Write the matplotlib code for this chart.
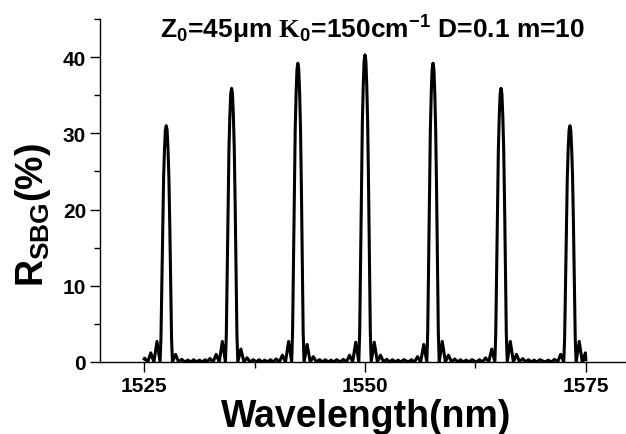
import matplotlib
matplotlib.use('Agg')
import matplotlib.pyplot as plt
from matplotlib.ticker import MultipleLocator

# channel peaks (nm, %)
centers = [1527.5, 1534.9, 1542.4, 1550.0, 1557.7, 1565.4, 1573.2]
heights = [31.0, 35.9, 39.2, 40.3, 39.2, 35.9, 31.0]

# main lobe shape: offset from centre (nm) -> fraction of peak height
core_offsets = [-0.7, -0.6, -0.5, -0.4, -0.3, -0.2, -0.1, 0.0,
                0.1, 0.2, 0.3, 0.4, 0.5, 0.6, 0.7]
core_frac = [0.0, 0.1, 0.33, 0.58, 0.78, 0.9, 0.98, 1.0,
             0.98, 0.9, 0.78, 0.58, 0.33, 0.1, 0.0]

# side lobes (nearest first), offsets in nm from the peak centre
lobe_offsets = [1.05, 1.75, 2.45]
null_offsets = [1.4, 2.1, 2.8]
left_lobes = [[2.7, 1.2, 0.5], [2.7, 1.0, 0.45], [2.7, 0.9, 0.4],
              [2.6, 0.9, 0.35], [2.3, 0.7, 0.3], [1.7, 0.55, 0.3],
              [1.0, 0.35, 0.25]]
right_lobes = [[1.0, 0.35, 0.25], [1.7, 0.55, 0.3], [2.3, 0.7, 0.3],
               [2.6, 0.9, 0.35], [2.7, 0.9, 0.4], [2.7, 1.0, 0.45],
               [2.7, 1.2, 0.5]]

# small ripples on the floor between channels (offset from left peak)
floor_offsets = [3.1, 3.45, 3.75, 4.05, 4.4]
floor_values = [0.3, 0.0, 0.25, 0.0, 0.3]

wl_start, wl_end = 1525.0, 1575.0
end_values = [0.4, 0.3]

pts = []
for i, c in enumerate(centers):
    h = heights[i]
    for o, f in zip(core_offsets, core_frac):
        pts.append((c + o, h * f))
    for o, v in zip(lobe_offsets, left_lobes[i]):
        pts.append((c - o, v))
    for o, v in zip(lobe_offsets, right_lobes[i]):
        pts.append((c + o, v))
    for o in null_offsets:
        pts.append((c - o, 0.0))
        pts.append((c + o, 0.0))
    if i < len(centers) - 1:
        for o, v in zip(floor_offsets, floor_values):
            pts.append((c + o, v))

pts = [p for p in pts if wl_start < p[0] < wl_end]
pts.append((wl_start, end_values[0]))
pts.append((wl_end, end_values[1]))
pts.sort()
wl = [p[0] for p in pts]
refl = [p[1] for p in pts]

plt.rcParams['font.family'] = ['Liberation Sans', 'DejaVu Sans']
plt.rcParams['font.weight'] = 'bold'
plt.rcParams['mathtext.fontset'] = 'custom'
plt.rcParams['mathtext.rm'] = 'Liberation Sans:bold'
plt.rcParams['mathtext.it'] = 'Liberation Sans:bold'
plt.rcParams['mathtext.bf'] = 'Liberation Sans:bold'
plt.rcParams['mathtext.tt'] = 'Liberation Serif'
plt.rcParams['mathtext.default'] = 'rm'

fig = plt.figure(figsize=(6.26, 4.35), dpi=100)
ax = fig.add_axes([100 / 626, 72 / 435, 530 / 626, 343 / 435])

ax.plot(wl, refl, color='black', lw=2.2, solid_joinstyle='round')

ax.set_xlim(1520, 1580)
ax.set_ylim(0, 45)
ax.xaxis.set_major_locator(MultipleLocator(25))
ax.xaxis.set_minor_locator(MultipleLocator(12.5))
ax.yaxis.set_major_locator(MultipleLocator(10))
ax.yaxis.set_minor_locator(MultipleLocator(5))

for s in ['top', 'right']:
    ax.spines[s].set_visible(False)
for s in ['left', 'bottom']:
    ax.spines[s].set_linewidth(1.0)

ax.tick_params(which='major', direction='out', length=7, width=1.0,
               labelsize=15, pad=3)
ax.tick_params(which='minor', direction='out', length=4, width=1.0)

ax.set_xlabel('Wavelength(nm)', fontsize=27, fontweight='bold')
ax.xaxis.set_label_coords(0.502, -0.105)
ax.set_ylabel(r'R$_{\mathrm{SBG}}$(%)', fontsize=27, fontweight='bold')
ax.yaxis.set_label_coords(-0.088, 0.43)

fig.text(160 / 626, (435 - 39) / 435,
         r'Z$_0$=45μm $\mathtt{K}_0$=150cm$^{-1}$ D=0.1 m=10',
         fontsize=19, fontweight='bold', ha='left', va='baseline')

fig.savefig('out.png', dpi=100)
